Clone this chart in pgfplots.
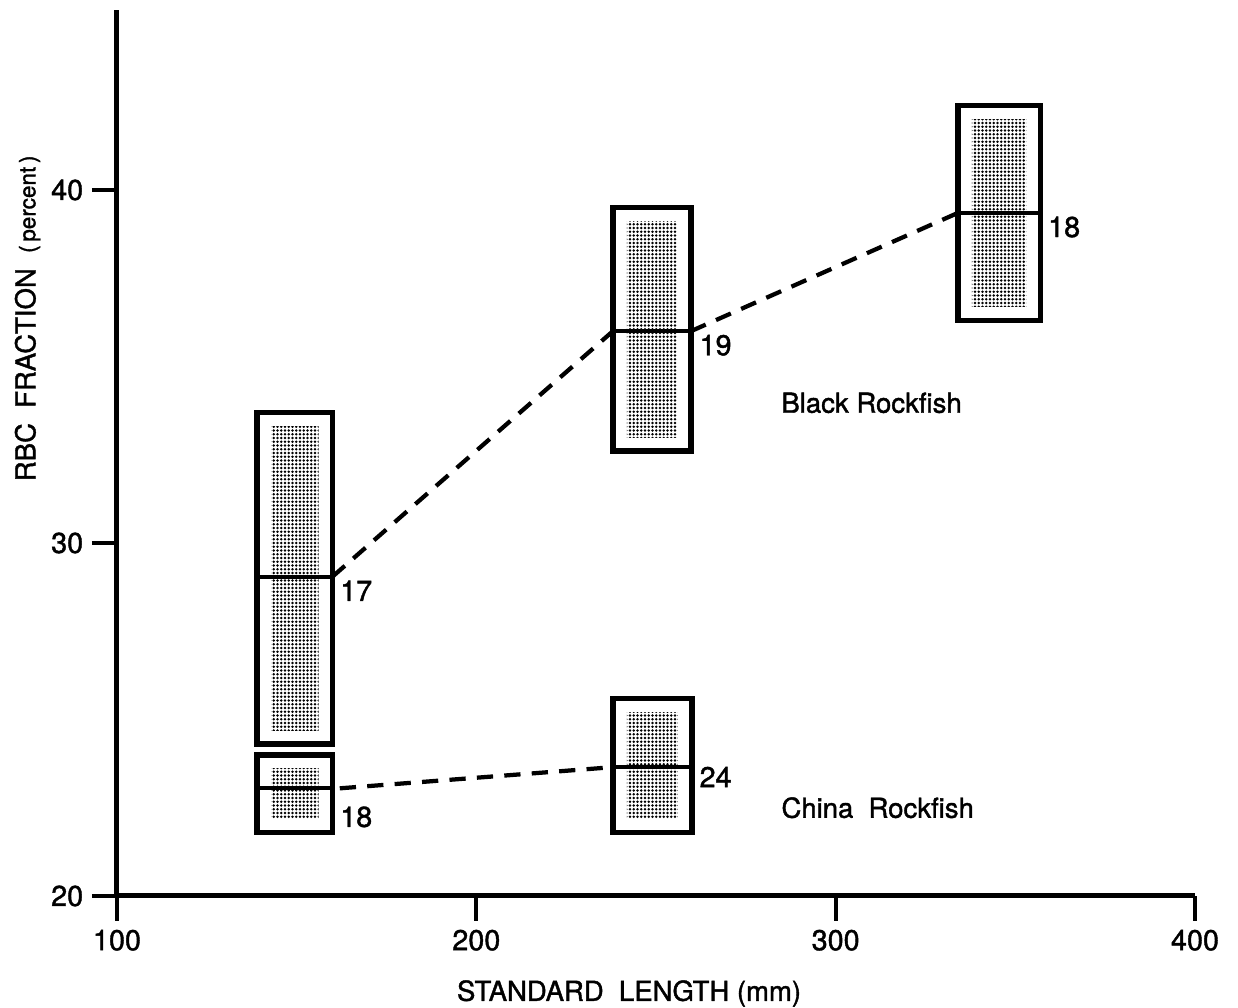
\documentclass[border=0pt]{standalone}
\usepackage{fontspec}
\setmainfont{TeX Gyre Heros}[FakeBold=1.4]
\usepackage{pgfplots}
\pgfplotsset{compat=1.18}
\usetikzlibrary{patterns.meta}

\tikzdeclarepattern{
  name=stipple,
  type=uncolored,
  bottom left={(-0.75pt,-0.75pt)},
  top right={(0.75pt,0.75pt)},
  tile size={(1.5pt,1.5pt)},
  code={\fill (0pt,0pt) circle (0.56pt);}
}

\begin{document}
\begin{tikzpicture}
\begin{axis}[
  name=ax,
  scale only axis,
  width=431.2pt, height=354.4pt,
  xmin=100, xmax=400, ymin=20, ymax=45.1,
  axis x line=bottom, axis y line=left,
  axis line style={-, line width=2pt, black},
  xtick={100,200,300,400}, ytick={20,30,40},
  tick align=outside,
  major tick length=10pt,
  tick style={line width=1.5pt, black},
  minor tick num=0,
  no markers,
  /pgf/number format/assume math mode=true,
  tick label style={font=\fontsize{11.5}{13}\selectfont},
  xlabel={STANDARD\ \ LENGTH (mm)},
  ylabel={RBC\ \ FRACTION\ \ {\fontsize{9}{10}\selectfont(\,percent\,)}},
  label style={font=\fontsize{11}{13}\selectfont},
  xlabel style={at={(axis description cs:0.475,-0.11)}, anchor=center},
  ylabel style={at={(axis description cs:-0.083,0.652)}, anchor=center},
  clip=false,
]
% ---- Black Rockfish boxes (outer frame, stippled interior, mean line)
\addplot[draw=black, line width=2.2pt, fill=white] coordinates {(139,24.3) (160,24.3) (160,33.7) (139,33.7)} -- cycle;
\addplot[draw=none, pattern=stipple, pattern color=black] coordinates {(142.9,24.7) (156.1,24.7) (156.1,33.3) (142.9,33.3)} -- cycle;
\addplot[black, line width=1.6pt] coordinates {(139,29.05) (160,29.05)};

\addplot[draw=black, line width=2.2pt, fill=white] coordinates {(238,32.6) (259.7,32.6) (259.7,39.5) (238,39.5)} -- cycle;
\addplot[draw=none, pattern=stipple, pattern color=black] coordinates {(241.9,33.0) (255.8,33.0) (255.8,39.1) (241.9,39.1)} -- cycle;
\addplot[black, line width=1.6pt] coordinates {(238,36.0) (259.7,36.0)};

\addplot[draw=black, line width=2.2pt, fill=white] coordinates {(334,36.3) (357,36.3) (357,42.4) (334,42.4)} -- cycle;
\addplot[draw=none, pattern=stipple, pattern color=black] coordinates {(337.9,36.7) (353.1,36.7) (353.1,42.0) (337.9,42.0)} -- cycle;
\addplot[black, line width=1.6pt] coordinates {(334,39.35) (357,39.35)};

% ---- China Rockfish boxes
\addplot[draw=black, line width=2.2pt, fill=white] coordinates {(139,21.8) (160,21.8) (160,24.0) (139,24.0)} -- cycle;
\addplot[draw=none, pattern=stipple, pattern color=black] coordinates {(142.9,22.2) (156.1,22.2) (156.1,23.6) (142.9,23.6)} -- cycle;
\addplot[black, line width=1.6pt] coordinates {(139,23.05) (160,23.05)};

\addplot[draw=black, line width=2.2pt, fill=white] coordinates {(238,21.8) (260,21.8) (260,25.6) (238,25.6)} -- cycle;
\addplot[draw=none, pattern=stipple, pattern color=black] coordinates {(241.9,22.2) (256.1,22.2) (256.1,25.2) (241.9,25.2)} -- cycle;
\addplot[black, line width=1.6pt] coordinates {(238,23.65) (260,23.65)};

% ---- dashed connecting lines (means)
\addplot[black, line width=1.7pt, dash pattern=on 6.5pt off 4.5pt] coordinates {(160,29.05) (238,36.0)};
\addplot[black, line width=1.7pt, dash pattern=on 6.5pt off 4.5pt] coordinates {(259.7,36.0) (334,39.35)};
\addplot[black, line width=1.7pt, dash pattern=on 6.5pt off 4.5pt] coordinates {(162,23.05) (238,23.65)};

% ---- sample sizes and species labels
\node[anchor=west, inner sep=0pt, font=\fontsize{11.5}{13}\selectfont] at (axis cs:162,28.65) {17};
\node[anchor=west, inner sep=0pt, font=\fontsize{11.5}{13}\selectfont] at (axis cs:262,35.6) {19};
\node[anchor=west, inner sep=0pt, font=\fontsize{11.5}{13}\selectfont] at (axis cs:359,38.95) {18};
\node[anchor=west, inner sep=0pt, font=\fontsize{11.5}{13}\selectfont] at (axis cs:162,22.24) {18};
\node[anchor=west, inner sep=0pt, font=\fontsize{11.5}{13}\selectfont] at (axis cs:262,23.37) {24};
\node[anchor=center, inner sep=0pt, font=\fontsize{11}{13}\selectfont] at (axis cs:310,33.97) {Black Rockfish};
\node[anchor=center, inner sep=0pt, font=\fontsize{11}{13}\selectfont] at (axis cs:311.7,22.5) {China\ \ Rockfish};
\end{axis}
\pgfresetboundingbox
\path[use as bounding box] ([shift={(-46.8pt,-44.8pt)}]ax.south west) rectangle ([shift={(448.4pt,358.4pt)}]ax.south west);
\end{tikzpicture}
\end{document}
